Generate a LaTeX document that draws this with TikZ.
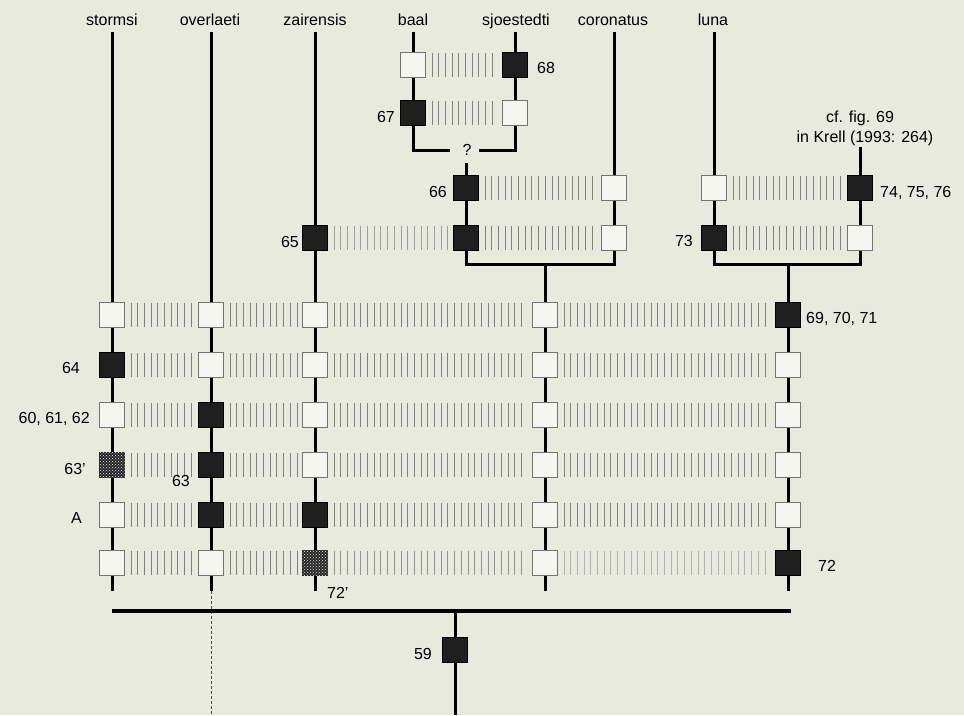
\documentclass[tikz,border=0pt]{standalone}
\usepackage{fontspec}
\setmainfont{Liberation Sans}
\usetikzlibrary{patterns}
\definecolor{bgc}{RGB}{232,234,221}
\definecolor{wfill}{RGB}{246,246,240}
\pgfdeclarelayer{bgl}
\pgfdeclarelayer{lines}
\pgfsetlayers{bgl,lines,main}
\tikzset{
 box/.style={rectangle, minimum size=25pt, inner sep=0pt, line width=1pt},
 wbox/.style={box, draw=black!55, fill=wfill},
 bbox/.style={box, draw=black, fill=black!88},
 cbox/.style={box, draw=black!85, fill=black!85, postaction={pattern=crosshatch dots, pattern color=white!92!black}},
 lin/.style={line width=3pt, line join=miter, line cap=butt},
 hlin/.style={line width=3.5pt, line join=miter, line cap=butt},
 lab/.style={inner sep=0pt, font=\fontsize{16}{19}\selectfont},
}
\newcommand\hatchrow[4][black!50]{%
  \pgfmathtruncatemacro\hn{(#3-#2-36)/6.7}%
  \foreach \i in {0,...,\hn}{\draw[line width=0.9pt,#1] ({#2+19+6.7*\i},{#4-12}) -- ({#2+19+6.7*\i},{#4+12});}%
}
\begin{document}
\begin{tikzpicture}[x=1pt,y=-1pt]
\useasboundingbox (0,0) rectangle (964,715);
\begin{pgfonlayer}{bgl}
\fill[bgc] (0,0) rectangle (964,715);
\end{pgfonlayer}

% column titles
\foreach \x/\t/\n in {112/stormsi/tS,210/overlaeti/tO,315/zairensis/tZ,413/baal/tB,516/sjoestedti/tJ,613/coronatus/tC,713/luna/tL}
  \node[lab, anchor=base] (\n) at (\x,25) {\t};

% coordinates for lines
\coordinate (sT) at (112,32); \coordinate (sB) at (112,591);
\coordinate (oT) at (211,32); \coordinate (oB) at (211,591); \coordinate (oD) at (211,715);
\coordinate (zT) at (315,32); \coordinate (zB) at (315,591);
\coordinate (bT) at (413,32); \coordinate (bJ) at (413,150); \coordinate (bE) at (450,150);
\coordinate (jT) at (515,32); \coordinate (jJ) at (515,150); \coordinate (jE) at (479,150);
\coordinate (qT) at (466,163); \coordinate (qJ) at (466,264);
\coordinate (cT) at (614,32); \coordinate (cJ) at (614,264);
\coordinate (mT) at (545,264); \coordinate (mB) at (545,591);
\coordinate (lT) at (714,32); \coordinate (lJ) at (714,264);
\coordinate (rT) at (860,147); \coordinate (rJ) at (860,264);
\coordinate (nT) at (788,264); \coordinate (nB) at (788,591);
\coordinate (barL) at (112,611); \coordinate (barR) at (791,611);
\coordinate (rootT) at (455,611); \coordinate (rootB) at (455,715);

\begin{pgfonlayer}{lines}
\draw[lin] (sT) -- (sB);
\draw[lin] (oT) -- (oB);
\draw[line width=0.6pt, dash pattern=on 3pt off 2pt, black!70] (oB) -- (oD);
\draw[lin] (zT) -- (zB);
\draw[lin] (bT) -- (bJ) -- (bE);
\draw[lin] (jT) -- (jJ) -- (jE);
\draw[lin] (qT) -- (qJ) -- (cJ) -- (cT);
\draw[lin] (mT) -- (mB);
\draw[lin] (lT) -- (lJ) -- (rJ) -- (rT);
\draw[lin] (nT) -- (nB);
\draw[hlin] (barL) -- (barR);
\draw[lin] (rootT) -- (rootB);
\end{pgfonlayer}

% hatching
\hatchrow{413}{515}{65}
\hatchrow{413}{515}{113}
\hatchrow{466}{614}{188}
\hatchrow{714}{860}{188}
\hatchrow[black!38]{315}{466}{238}
\hatchrow{466}{614}{238}
\hatchrow{714}{860}{238}
\foreach \y in {315,365,415,465,515}{
  \hatchrow{112}{211}{\y}\hatchrow{211}{315}{\y}\hatchrow{315}{545}{\y}\hatchrow{545}{788}{\y}}
\hatchrow{112}{211}{563}\hatchrow{211}{315}{563}\hatchrow[black!42]{315}{545}{563}\hatchrow[black!30]{545}{788}{563}

% upper boxes
\node[wbox] (b1) at (413,65) {};
\node[bbox] (b2) at (413,113) {};
\node[bbox] (j1) at (515,65) {};
\node[wbox] (j2) at (515,113) {};
\node[bbox] (q1) at (466,188) {};
\node[bbox] (q2) at (466,238) {};
\node[bbox] (z0) at (315,238) {};
\node[wbox] (c1) at (614,188) {};
\node[wbox] (c2) at (614,238) {};
\node[wbox] (l1) at (714,188) {};
\node[bbox] (l2) at (714,238) {};
\node[bbox] (r1) at (860,188) {};
\node[wbox] (r2) at (860,238) {};

% main grid
\node[wbox] (s1) at (112,315) {};
\node[bbox] (s2) at (112,365) {};
\node[wbox] (s3) at (112,415) {};
\node[cbox] (s4) at (112,465) {};
\node[wbox] (s5) at (112,515) {};
\node[wbox] (s6) at (112,563) {};

\node[wbox] (o1) at (211,315) {};
\node[wbox] (o2) at (211,365) {};
\node[bbox] (o3) at (211,415) {};
\node[bbox] (o4) at (211,465) {};
\node[bbox] (o5) at (211,515) {};
\node[wbox] (o6) at (211,563) {};

\node[wbox] (z1) at (315,315) {};
\node[wbox] (z2) at (315,365) {};
\node[wbox] (z3) at (315,415) {};
\node[wbox] (z4) at (315,465) {};
\node[bbox] (z5) at (315,515) {};
\node[cbox] (z6) at (315,563) {};

\foreach \y/\k in {315/1,365/2,415/3,465/4,515/5,563/6}
  \node[wbox] (m\k) at (545,\y) {};

\node[bbox] (n1) at (788,315) {};
\node[wbox] (n2) at (788,365) {};
\node[wbox] (n3) at (788,415) {};
\node[wbox] (n4) at (788,465) {};
\node[wbox] (n5) at (788,515) {};
\node[bbox] (n6) at (788,563) {};

\node[bbox] (root) at (455,650) {};

% labels
\node[lab, anchor=base west] (t68) at (537,73) {68};
\node[lab, anchor=base east] (t67) at (395,122) {67};
\node[lab, anchor=base] (tq) at (467,155) {?};
\node[lab, anchor=base east] (t66) at (447,197) {66};
\node[lab, anchor=base east] (t65) at (299,247) {65};
\node[lab, anchor=base east] (t73) at (693,246) {73};
\node[lab, anchor=base west] (t74) at (880,197) {74, 75, 76};
\node[lab, anchor=base] (tcf) at (860,122) {cf. fig. 69};
\node[lab, anchor=base] (tkr) at (865,142) {in Krell (1993: 264)};
\node[lab, anchor=base west] (t69) at (806,323) {69, 70, 71};
\node[lab, anchor=base east] (t64) at (80,373) {64};
\node[lab, anchor=base east] (t60) at (90,423) {60, 61, 62};
\node[lab, anchor=base east] (t63p) at (86,474) {63'};
\node[lab, anchor=base east] (t63) at (190,486) {63};
\node[lab, anchor=base east] (tA) at (82,523) {A};
\node[lab, anchor=base west] (t72p) at (327,598) {72'};
\node[lab, anchor=base west] (t72) at (818,571) {72};
\node[lab, anchor=base east] (t59) at (432,659) {59};
\end{tikzpicture}
\end{document}
